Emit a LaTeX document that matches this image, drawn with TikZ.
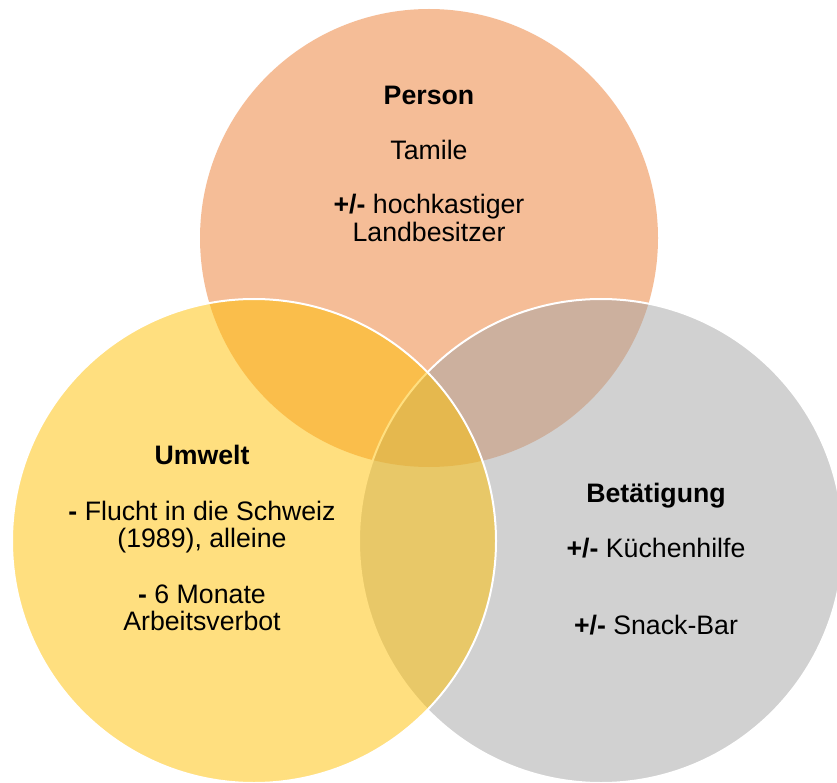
\documentclass[tikz,border=0pt]{standalone}
\usepackage{fontspec}
\setmainfont{Liberation Sans}
\usepackage{tikz}

\definecolor{personorange}{HTML}{ED7D31}
\definecolor{umweltyellow}{HTML}{FFC000}
\definecolor{betgray}{HTML}{A5A5A5}

\tikzset{
    venn/.style={fill opacity=.5, draw=white, line width=2pt},
    venntext/.style={anchor=north, inner sep=0pt, align=center, text=black,
        font=\fontsize{26.7}{27.3}\selectfont}
}

\begin{document}
\begin{tikzpicture}[x=1pt,y=-1pt]
    \fill [white] (0,0) rectangle (837,783);
    \useasboundingbox (0,0) rectangle (837,783);

    % circle centres
    \coordinate (p) at (429,238);
    \coordinate (b) at (601,541);
    \coordinate (u) at (254,541);

    \fill [personorange, fill opacity=.5] (p) circle [radius=229pt];
    \filldraw [venn, fill=betgray] (b) circle [radius=242pt];
    \filldraw [venn, fill=umweltyellow] (u) circle [radius=242pt];

    % texts
    \node [venntext] (person) at (429,86)
        {\textbf{Person}\\[27.7pt] Tamile\\[27pt] \textbf{+/-} hochkastiger\\ Landbesitzer};

    \node [venntext] (umwelt) at (202,445)
        {\textbf{Umwelt}\\[28.7pt] \textbf{-} Flucht in die Schweiz\\ (1989), alleine\\[28.1pt]
         \textbf{-} 6 Monate\\ Arbeitsverbot};

    \node [venntext] (betaetigung) at (656,483)
        {\textbf{Betätigung}\\[27.7pt] \textbf{+/-} Küchenhilfe\\[50pt] \textbf{+/-} Snack-Bar};

\end{tikzpicture}
\end{document}
